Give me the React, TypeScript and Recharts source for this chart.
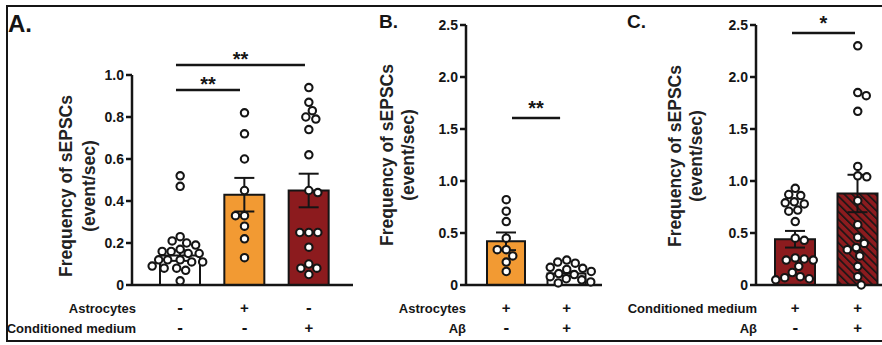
import React from 'react';
import { ComposedChart, Bar, XAxis, YAxis, Scatter, ErrorBar, Cell, ReferenceLine } from 'recharts';

// ---------- DATA ----------
const aNames = ['Control', 'Astrocytes', 'Conditioned medium'];
const aMeans = [0.14, 0.43, 0.45];
const aSem = [0.025, 0.08, 0.08];
const aCtrl = [0.52, 0.47, 0.23, 0.21, 0.2, 0.19, 0.17, 0.16, 0.16, 0.15, 0.15, 0.12, 0.12, 0.12, 0.11, 0.11, 0.09, 0.08, 0.08, 0.07, 0.02];
const aAstro = [0.82, 0.72, 0.6, 0.45, 0.33, 0.33, 0.28, 0.22, 0.13];
const aCm = [0.94, 0.87, 0.83, 0.8, 0.79, 0.74, 0.62, 0.45, 0.44, 0.25, 0.25, 0.25, 0.18, 0.1, 0.08, 0.08, 0.05];
const aRow1 = ['-', '+', '-'];
const aRow2 = ['-', '-', '+'];
const aTicks = [0, 0.2, 0.4, 0.6, 0.8, 1.0];

const bNames = ['Astrocytes', 'Astrocytes + Aβ'];
const bMeans = [0.42, 0.11];
const bSem = [0.085, 0.02];
const bAstro = [0.82, 0.71, 0.61, 0.45, 0.34, 0.34, 0.28, 0.22, 0.13];
const bAbeta = [0.24, 0.22, 0.21, 0.17, 0.16, 0.15, 0.13, 0.11, 0.1, 0.08, 0.06, 0.05, 0.03, 0.02];
const bRow1 = ['+', '+'];
const bRow2 = ['-', '+'];

const cNames = ['Conditioned medium', 'Conditioned medium + Aβ'];
const cMeans = [0.44, 0.88];
const cSem = [0.08, 0.18];
const cCm = [0.93, 0.87, 0.86, 0.8, 0.79, 0.78, 0.72, 0.71, 0.61, 0.45, 0.43, 0.26, 0.25, 0.24, 0.24, 0.18, 0.12, 0.08, 0.07, 0.06, 0.05];
const cCmAbeta = [2.3, 1.85, 1.82, 1.67, 1.14, 1.05, 1.04, 0.81, 0.58, 0.46, 0.4, 0.36, 0.34, 0.28, 0.18, 0.08, 0.0];
const cRow1 = ['+', '+'];
const cRow2 = ['-', '+'];
const bcTicks = [0, 0.5, 1.0, 1.5, 2.0, 2.5];

// ---------- STYLE ----------
const ORANGE = '#F29A33';
const DARKRED = '#8C1B1E';
const INK = '#151515';
const FONT = '"Liberation Sans", Arial, sans-serif';

// beeswarm layout (pixel based) -> offsets in px
function swarm(values: number[], pxPerUnit: number, d: number): number[] {
  const placed: { dx: number; py: number }[] = [];
  return values.map((v, idx) => {
    const py = v * pxPerUnit;
    let best = 0;
    for (let k = 0; k < 400; k++) {
      const c = k * 0.5;
      const cands = k === 0 ? [0] : idx % 2 === 0 ? [c, -c] : [-c, c];
      let found: number | null = null;
      for (const cand of cands) {
        if (placed.every((p) => Math.hypot(p.dx - cand, p.py - py) >= d)) {
          found = cand;
          break;
        }
      }
      if (found !== null) {
        best = found;
        break;
      }
    }
    placed.push({ dx: best, py });
    return best;
  });
}

type Sig = { x1: number; x2: number; y: number; text: string; off: number };

type PanelProps = {
  left: number;
  width: number;
  yAxisWidth: number;
  marginTop: number;
  marginRight: number;
  yMax: number;
  ticks: number[];
  padL: number;
  padR: number;
  barSize: number;
  names: string[];
  means: number[];
  sems: number[];
  groups: number[][];
  fills: string[];
  rows: string[][];
  sigs: Sig[];
};

const H = 345;
const XAXIS_H = 60;

function Panel(p: PanelProps) {
  const n = p.names.length;
  const band = (p.width - p.yAxisWidth - p.marginRight - p.padL - p.padR) / n;
  const pxPerUnit = (H - p.marginTop - XAXIS_H) / p.yMax;
  const data = p.names.map((name, i) => ({ name, mean: p.means[i], sem: p.sems[i] }));
  const pts = p.groups.flatMap((vals, i) => {
    const offs = swarm(vals, pxPerUnit, 9);
    return vals.map((v, j) => ({ x: i + 0.5 + offs[j] / band, y: v }));
  });
  const SignTick = (tp: any) => {
    const idx = tp.index ?? tp.payload?.index ?? 0;
    return (
      <g>
        {p.rows.map((r, k) => (
          <text
            key={k}
            x={tp.x}
            y={313 + k * 20}
            textAnchor="middle"
            fontSize={r[idx] === '-' ? 17 : 15}
            fontWeight={700}
            fill={INK}
            fontFamily={FONT}
          >
            {r[idx]}
          </text>
        ))}
      </g>
    );
  };
  return (
    <div style={{ position: 'absolute', left: p.left, top: 0 }}>
      <ComposedChart
        width={p.width}
        height={H}
        data={data}
        margin={{ top: p.marginTop, right: p.marginRight, bottom: 0, left: 0 }}
      >
        <XAxis
          dataKey="name"
          height={XAXIS_H}
          interval={0}
          tickLine={false}
          axisLine={{ stroke: INK, strokeWidth: 2.5 }}
          padding={{ left: p.padL, right: p.padR }}
          tick={SignTick}
        />
        <XAxis xAxisId="n" type="number" dataKey="x" domain={[0, n]} hide padding={{ left: p.padL, right: p.padR }} />
        <YAxis
          width={p.yAxisWidth}
          domain={[0, p.yMax]}
          ticks={p.ticks}
          interval={0}
          tickSize={6}
          tickMargin={2}
          tickFormatter={(v: number) => (v === 0 ? '0' : v.toFixed(1))}
          axisLine={{ stroke: INK, strokeWidth: 2.5 }}
          tickLine={{ stroke: INK, strokeWidth: 2.5 }}
          tick={{ fontSize: 14, fontWeight: 700, fill: INK, fontFamily: FONT }}
        />
        <Bar dataKey="mean" barSize={p.barSize} stroke={INK} strokeWidth={2} isAnimationActive={false}>
          {data.map((_, i) => (
            <Cell key={i} fill={p.fills[i]} />
          ))}
          <ErrorBar dataKey="sem" width={10} stroke={INK} strokeWidth={2} direction="y" />
        </Bar>
        <Scatter
          data={pts}
          dataKey="y"
          xAxisId="n"
          isAnimationActive={false}
          shape={(sp: any) => <circle cx={sp.cx} cy={sp.cy} r={3.7} fill="#fff" stroke={INK} strokeWidth={2.1} />}
        />
        {p.sigs.map((s, k) => (
          <ReferenceLine
            key={k}
            xAxisId="n"
            segment={[
              { x: s.x1, y: s.y },
              { x: s.x2, y: s.y },
            ]}
            stroke={INK}
            strokeWidth={2.5}
            ifOverflow="visible"
            label={(lp: any) => {
              const vb = lp.viewBox || { x: 0, y: 0, width: 0 };
              return (
                <text
                  x={vb.x + vb.width / 2}
                  y={vb.y - s.off + 11.4}
                  textAnchor="middle"
                  fontSize={20}
                  fontWeight={700}
                  fill={INK}
                  fontFamily={FONT}
                >
                  {s.text}
                </text>
              );
            }}
          />
        ))}
      </ComposedChart>
    </div>
  );
}

function YTitle({ x1, x2, cy }: { x1: number; x2: number; cy: number }) {
  return (
    <g fill="#222" fontFamily={FONT} fontSize={17.5} fontWeight={700}>
      <text transform={`translate(${x1},${cy}) rotate(-90)`} textAnchor="middle" dominantBaseline="central">
        Frequency of sEPSCs
      </text>
      <text transform={`translate(${x2},${cy}) rotate(-90)`} textAnchor="middle" dominantBaseline="central">
        (event/sec)
      </text>
    </g>
  );
}

export default function App() {
  return (
    <div
      style={{
        position: 'absolute',
        left: 0,
        top: 0,
        width: 882,
        height: 345,
        overflow: 'hidden',
        background: '#fff',
        fontFamily: FONT,
      }}
    >
      <svg width={0} height={0} style={{ position: 'absolute' }}>
        <defs>
          <pattern id="hatchRed" patternUnits="userSpaceOnUse" width={5.5} height={5.5} patternTransform="rotate(-45)">
            <rect width={5.5} height={5.5} fill={DARKRED} />
            <line x1={0} y1={0} x2={0} y2={5.5} stroke={INK} strokeWidth={3.2} />
          </pattern>
        </defs>
      </svg>
      <svg width={882} height={345} style={{ position: 'absolute', left: 0, top: 0 }}>
        <path d="M 882 6 H 7 V 341 H 882" fill="none" stroke={INK} strokeWidth={2} />
        <g fontFamily={FONT} fontWeight={700} fill={INK}>
          <text x={8} y={32} fontSize={24}>A.</text>
          <text x={379} y={28} fontSize={19}>B.</text>
          <text x={627} y={28} fontSize={19}>C.</text>
        </g>
        <g fontFamily={FONT} fontWeight={700} fill={INK} fontSize={13} textAnchor="end">
          <text x={136} y={313}>Astrocytes</text>
          <text x={136} y={333}>Conditioned medium</text>
          <text x={466} y={313}>Astrocytes</text>
          <text x={466} y={333}>Aβ</text>
          <text x={757} y={313}>Conditioned medium</text>
          <text x={757} y={333}>Aβ</text>
        </g>
        <YTitle x1={66} x2={89} cy={186} />
        <YTitle x1={387} x2={408} cy={155} />
        <YTitle x1={675} x2={696} cy={156} />
      </svg>
      <Panel
        left={0}
        width={360}
        yAxisWidth={132}
        marginTop={75}
        marginRight={7}
        yMax={1}
        ticks={aTicks}
        padL={16}
        padR={12}
        barSize={40}
        names={aNames}
        means={aMeans}
        sems={aSem}
        groups={[aCtrl, aAstro, aCm]}
        fills={['#ffffff', ORANGE, DARKRED]}
        rows={[aRow1, aRow2]}
        sigs={[
          { x1: 0.435, x2: 1.43, y: 0.929, text: '**', off: 10 },
          { x1: 0.435, x2: 2.44, y: 1.048, text: '**', off: 10 },
        ]}
      />
      <Panel
        left={340}
        width={270}
        yAxisWidth={126}
        marginTop={25}
        marginRight={8}
        yMax={2.5}
        ticks={bcTicks}
        padL={10}
        padR={5}
        barSize={38}
        names={bNames}
        means={bMeans}
        sems={bSem}
        groups={[bAstro, bAbeta]}
        fills={[ORANGE, '#ffffff']}
        rows={[bRow1, bRow2]}
        sigs={[{ x1: 0.595, x2: 1.39, y: 1.606, text: '**', off: 14 }]}
      />
      <Panel
        left={610}
        width={285}
        yAxisWidth={146}
        marginTop={25}
        marginRight={0}
        yMax={2.5}
        ticks={bcTicks}
        padL={8}
        padR={6}
        barSize={40}
        names={cNames}
        means={cMeans}
        sems={cSem}
        groups={[cCm, cCmAbeta]}
        fills={[DARKRED, 'url(#hatchRed)']}
        rows={[cRow1, cRow2]}
        sigs={[{ x1: 0.448, x2: 1.456, y: 2.423, text: '*', off: 14 }]}
      />
    </div>
  );
}
